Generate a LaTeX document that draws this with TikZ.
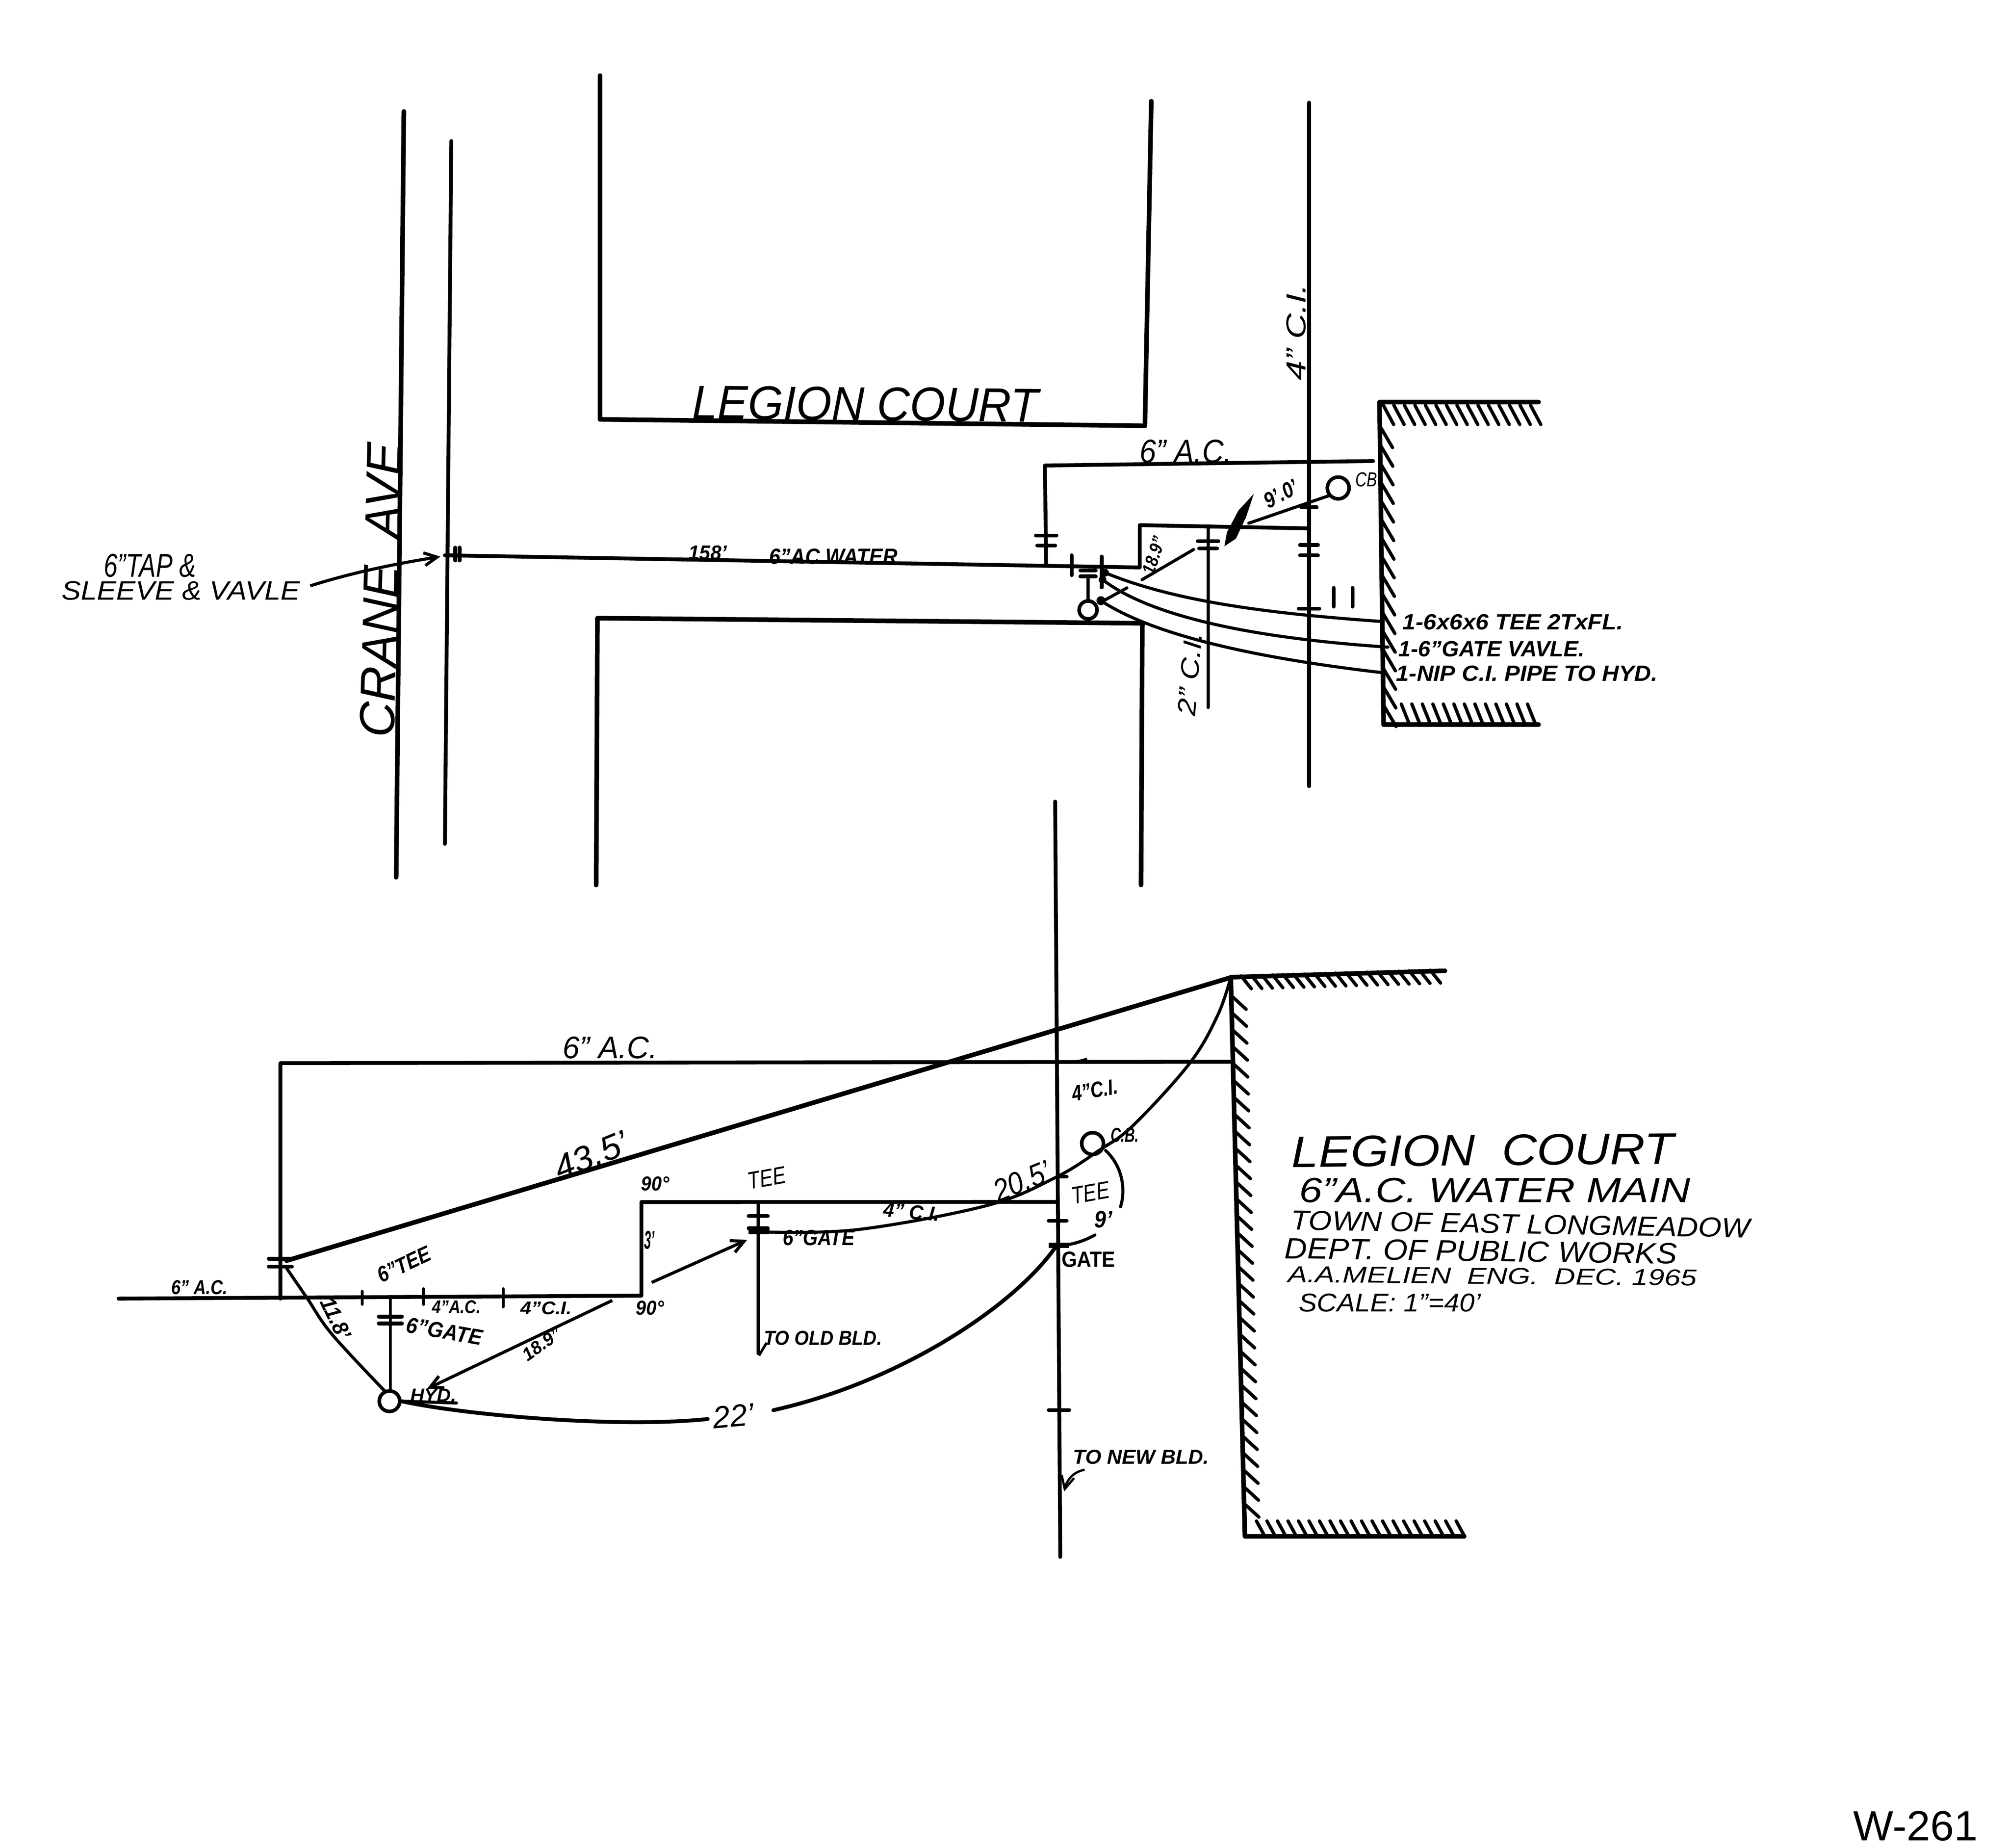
\documentclass[tikz,border=0pt]{standalone}
\usepackage{fontspec}
\usepackage{graphicx}
\setmainfont{Liberation Sans}
\usetikzlibrary{arrows.meta}
\tikzset{
  heavy/.style={line width=3.6pt,line cap=round,line join=round},
  main/.style={line width=3pt,line cap=round,line join=round},
  thin pipe/.style={line width=2.4pt,line cap=round,line join=round},
  hatch/.style={line width=2.6pt,line cap=round},
  lab/.style={inner sep=0pt,outer sep=0pt,anchor=center},
  fitting/.style={line width=2.8pt,draw,circle,minimum size=16pt,inner sep=0pt,fill=white},
  leader/.style={line width=2.4pt,-{Straight Barb[length=10pt,width=10pt]}}
}
\newcommand{\fitit}[3]{\resizebox{#1pt}{#2pt}{\itshape #3}}
\newcommand{\fitb}[3]{\resizebox{#1pt}{#2pt}{\itshape\bfseries #3}}
\newcommand{\flange}[3]{\draw[main] (#1-#3,#2)--(#1+#3,#2);}
\begin{document}
\begin{tikzpicture}[x=1pt,y=-1pt]
\useasboundingbox[fill=white] (0,0) rectangle (1567,1441);
% streets
\draw[heavy] (315,87)--(309,684);
\draw[main] (352,110)--(347,658);
\draw[heavy] (468,59)--(468,327)--(893,332)--(898,79);
\draw[heavy] (465,690)--(466,482)--(891,486)--(890,690);
\node[lab,rotate=-0.5] (lc1) at (675,315) {\fitit{270}{26}{LEGION COURT}};
\node[lab,rotate=88.5] (crane) at (297,460) {\fitit{230}{27}{CRANE\ \ AVE}};
\node[lab,rotate=90] (ci4) at (1011,259) {\fitit{75}{15}{4" C.I.}};
% top plan pipes
\draw[main] (1021,80)--(1021,613);
\draw[main] (816,440)--(815,363)--(1071,359.5);
\draw[main] (347,433)--(889,442.5)--(889,409.5)--(1020.3,412);
\draw[main] (355,427)--(355,437) (358.5,427)--(358.5,437);
\node[lab] (ac6a) at (925,352) {\fitit{72}{18}{6" A.C.}};
\node[lab] (len158) at (552,431) {\fitb{30}{11}{158'}};
\node[lab] (water) at (650,434) {\fitb{100}{12}{6"AC WATER}};
\flange{816}{417.6}{8}\flange{816}{425.4}{7}
\draw[main] (836,433)--(836,448.5);
\flange{848.7}{444.8}{6}\flange{848.7}{449.4}{6}
\draw[thin pipe] (848.7,449)--(848.7,468);
\node[fitting,minimum size=14pt] (hydA) at (848.7,475.6) {};
\draw[main] (859.4,434)--(859.4,458);
% leaders to the schedule
\fill (862,446.6) circle (3pt) (860,452) circle (3pt) (858.7,468.4) circle (3.5pt);
\draw[thin pipe] (862,446.6) .. controls (914,468) and (983,478) .. (1079,484.7);
\draw[thin pipe] (860,452) .. controls (899,482) and (983,498) .. (1082.6,504.6);
\draw[thin pipe] (858.7,468.4) .. controls (899,495) and (978,513) .. (1079,524.6);
% 18.9 dimension and 9.0 dimension
\draw[thin pipe] (890.8,452)--(931,428.5);
\draw[thin pipe] (879,458.4)--(858,470);
\node[lab,rotate=72] (d189a) at (900,433) {\fitb{30}{10}{18.9"}};
\draw[thin pipe] (942.3,412)--(942.3,551.7);
\flange{942.3}{422}{8}\flange{942.3}{427.6}{7}
\fill (978,385) -- (972,403) -- (964,420) -- (955,426) -- (957,415) -- (966,398) -- cycle;
\draw[thin pipe] (974,408)--(1038,386);
\node[fitting,minimum size=17pt] (cbA) at (1043.8,380.5) {};
\node[lab] (cbAl) at (1065.7,374) {\fitit{17}{11}{CB}};
\node[lab,rotate=28] (d90) at (999,385) {\fitb{28}{12}{9'.0'}};
\flange{1021}{395.5}{6}\flange{1021}{424.9}{7}\flange{1021}{433}{7}\flange{1021}{474.7}{8}
\draw[main] (1040.3,458.4)--(1040.3,473) (1055,458.4)--(1055,473);
\node[lab,rotate=85] (ci2) at (928,525.5) {\fitit{65}{14}{2" C.I.}};
% top wall
\draw[heavy] (1200,313.5)--(1076,313.5)--(1079.2,565)--(1200,565);
\foreach \yy in {332,346.5,...,555}{\draw[hatch] (1076+\yy*0.0128-4.1,\yy)--++(10,17);}
\foreach \xx in {1079,1087.2,...,1194}{\draw[hatch] (\xx,316)--++(8,15);}
\foreach \xx in {1093,1101.2,...,1192}{\draw[hatch] (\xx,549)--++(6,15);}
\node[lab] (s1) at (1180,485) {\fitb{172}{12}{1-6x6x6 TEE 2TxFL.}};
\node[lab] (s2) at (1163.4,506) {\fitb{145}{12}{1-6"GATE VAVLE.}};
\node[lab] (s3) at (1191,525) {\fitb{204}{12}{1-NIP C.I. PIPE TO HYD.}};
% tap label
\node[lab] (tap1) at (117,441) {\fitit{72}{18}{6"TAP \&}};
\node[lab] (tap2) at (141,460.6) {\fitit{186}{14.5}{SLEEVE \& VAVLE}};
\coordinate (tapstart) at (242,456.8);
\coordinate (tapend) at (343.5,434);
\draw[leader] (tapstart) .. controls (270,448) and (300,441) .. (tapend);
% lower detail
\draw[main] (92.5,1012.6)--(500.3,1010.3)--(500.3,937.3)--(824.6,937.2);
\draw[main] (218.7,1012.6)--(218.7,829)--(960,827.9);
\draw[main] (823,625)--(827,1214);
\draw[heavy] (223.6,983)--(960.7,762);
\flange{218.7}{981.5}{9}\flange{218.7}{987.7}{9}
\draw[thin pipe] plot[smooth,tension=.6] coordinates {(223.6,989) (239.8,1012.6) (259,1040.5) (301,1085.6)};
\draw[thin pipe] (282.5,1007)--(282.5,1017) (330.4,1005)--(330.4,1017) (392.5,1005)--(392.5,1019);
\draw[thin pipe] (304.5,1011)--(304.5,1086);
\flange{304.5}{1026.6}{9}\flange{304.5}{1032}{9}
\node[fitting] (hyd) at (303.8,1092.6) {};
\node[lab] (hydl) at (338,1088) {\fitb{36}{10}{HYD.}};
\draw[thin pipe] (hyd.east)--(356,1094);
\draw[main] (hyd.east) .. controls (360,1103) and (480,1114) .. (552,1106.5);
\draw[main] (603.2,1099.6) .. controls (700,1078) and (790,1020) .. (823.6,972);
\node[lab,rotate=5] (d22) at (572,1104) {\fitit{32}{17}{22'}};
\draw[leader] (477.6,1014)--(333,1083);
\draw[leader] (508.3,1000)--(582.8,966.8);
\draw[thin pipe] (591.4,937.2)--(591.4,1055.6);
\flange{591.4}{948.2}{7.5}\flange{591.4}{957.7}{7.5}
\draw[line width=5pt] (584,960)--(600,960);
\draw[thin pipe] plot[smooth,tension=.6] coordinates {(594.8,960.6) (668.8,958.8) (769.8,940) (823.6,918) (857.3,897) (884,877.4) (928,829) (949.8,791.6) (960,762)};
\draw[line width=2pt] (598,1047)--(592,1057);
\node[fitting,fill=none,minimum size=17pt] (cb) at (852.2,891.7) {};
\node[lab] (cbl) at (877.4,885) {\fitb{22}{11}{C.B.}};
\draw[thin pipe] (862.3,897) .. controls (876,910) and (878,928) .. (874,941);
\draw[thin pipe] (854,963) .. controls (845,968) and (835,971) .. (827,971);
\draw[main] (825,917.4)--(832,917.4);
\flange{825}{952}{7}\draw[line width=4pt] (818,971)--(834,971);
\flange{826}{1099.6}{8}
\draw[line width=2.4pt] (838,828.5)--(848,826);
% lower labels
\node[lab] (ac6b) at (476,817) {\fitit{74}{17}{6" A.C.}};
\node[lab] (ac6c) at (155.6,1004) {\fitb{44}{11}{6" A.C.}};
\node[lab,rotate=22] (d435) at (461,901) {\fitit{60}{19}{43.5'}};
\node[lab,rotate=25] (tee6) at (315,986) {\fitb{44}{12}{6"TEE}};
\node[lab] (ac4) at (356,1019) {\fitb{38}{10}{4"A.C.}};
\node[lab] (ci4b) at (426,1020) {\fitb{40}{10}{4"C.I.}};
\node[lab] (n90a) at (507,1020) {\fitb{22}{11}{90°}};
\node[lab] (n90b) at (511,923) {\fitb{22}{11}{90°}};
\node[lab] (n3) at (506.6,967) {\fitb{8}{14}{3'}};
\node[lab,rotate=-10] (gate6) at (346.6,1038) {\fitb{60}{12}{6"GATE}};
\node[lab,rotate=35] (d189b) at (422.6,1048) {\fitb{34}{10}{18.9"}};
\node[lab,rotate=-65] (d118) at (262,1028) {\fitb{34}{12}{11.8'}};
\node[lab,rotate=10] (teeB) at (598,918.5) {\fitit{30}{13}{TEE}};
\node[lab] (gateB) at (638.5,965) {\fitb{56}{12}{6"GATE}};
\node[lab,rotate=-5] (ci4c) at (711,945) {\fitb{44}{11}{4" C.I.}};
\node[lab,rotate=22] (d205) at (797,921) {\fitit{46}{17}{20.5'}};
\node[lab,rotate=10] (ci4d) at (854,850) {\fitb{36}{12}{4"C.I.}};
\node[lab,rotate=10] (teeC) at (850.5,930) {\fitit{30}{13}{TEE}};
\node[lab] (n9) at (860.6,951) {\fitb{14}{13}{9'}};
\node[lab] (gateC) at (849,982) {\resizebox{42pt}{12pt}{\bfseries GATE}};
\node[lab] (oldb) at (641.9,1043.5) {\fitb{92}{11}{TO OLD BLD.}};
\node[lab] (newb) at (890,1136) {\fitb{106}{11}{TO NEW BLD.}};
\coordinate (newstart) at (846,1146);
\coordinate (newend) at (830,1163);
\draw[leader,line width=1.8pt] (newstart) .. controls (836,1148) and (832,1155) .. (newend);
% lower wall
\draw[heavy] (1127,757)--(960,762)--(971,1198)--(1142,1198);
\foreach \yy in {776,789.2,...,1185}{\draw[hatch] (960+\yy*0.0252-19.6,\yy)--++(12,11);}
\foreach \xx in {968,976.2,...,1122}{\draw[hatch] (\xx,761-\xx*0.03+29)--++(8,10);}
\foreach \xx in {980,988.2,...,1136}{\draw[hatch] (\xx,1186)--++(6,11);}
% title block
\node[lab,rotate=0.5] (t1) at (1156.5,897) {\fitit{298}{24}{LEGION\ \ COURT}};
\node[lab] (t2) at (1166,928) {\fitit{305}{19}{6"A.C. WATER MAIN}};
\node[lab,rotate=-1] (t3) at (1186,954.5) {\fitit{358}{15}{TOWN OF EAST LONGMEADOW}};
\node[lab,rotate=-0.8] (t4) at (1155,975.5) {\fitit{306}{16}{DEPT. OF PUBLIC WORKS}};
\node[lab,rotate=-0.5] (t5) at (1164,995) {\fitit{319}{12.5}{A.A.MELIEN\ \ ENG.\ \ DEC. 1965}};
\node[lab] (t6) at (1084,1016) {\fitit{142}{14}{SCALE: 1"=40'}};
\node[lab] (wno) at (1494,1424) {\resizebox{97pt}{23pt}{W-261}};
\end{tikzpicture}
\end{document}
